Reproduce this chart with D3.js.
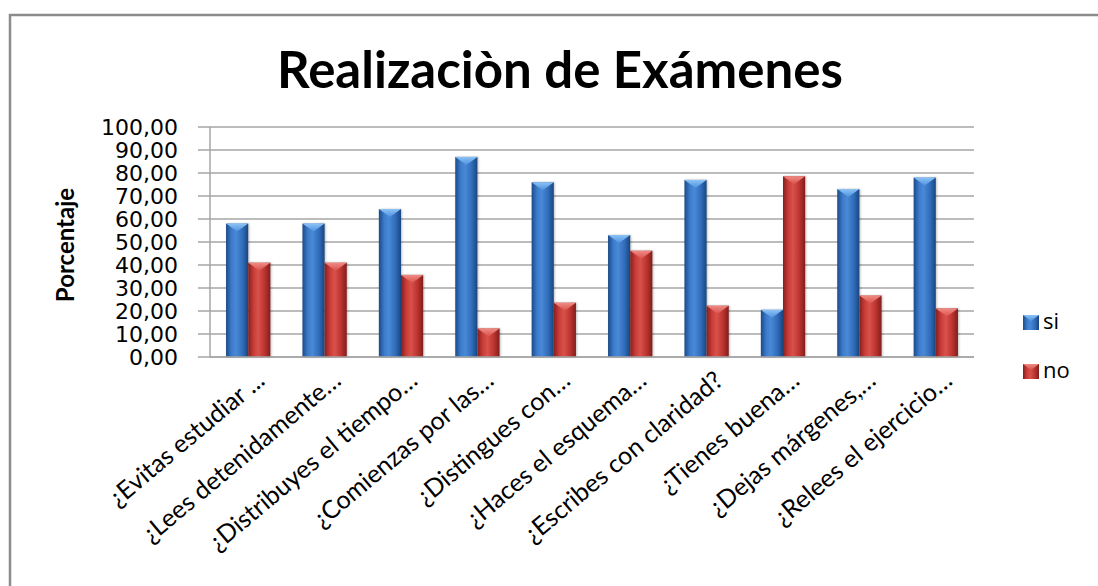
<!DOCTYPE html>
<html>
<head>
<meta charset="utf-8">
<script src="https://cdn.jsdelivr.net/npm/d3@7"></script>
<style>
  html, body { margin: 0; padding: 0; background: #fff; }
  svg { display: block; }
</style>
</head>
<body>
<svg id="chart" width="1098" height="586"></svg>
<script>
// Survey questions (labels as shortened on the axis)
const categories = [
  "¿Evitas estudiar ...",
  "¿Lees detenidamente…",
  "¿Distribuyes el tiempo…",
  "¿Comienzas por las…",
  "¿Distingues con…",
  "¿Haces el esquema…",
  "¿Escribes con claridad?",
  "¿Tienes buena…",
  "¿Dejas márgenes,…",
  "¿Relees el ejercicio…"
];
const seriesNames = ["si", "no"];
const siValues = [58, 58, 64.3, 87, 76, 53, 77, 20.5, 73, 78];
const noValues = [41, 41, 35.7, 12.4, 23.6, 46.2, 22.3, 78.6, 26.7, 21.1];
const yTicks = [0, 10, 20, 30, 40, 50, 60, 70, 80, 90, 100];

const svg = d3.select("#chart");
const plot = { left: 210, right: 974, top: 127, bottom: 357 };

const esLocale = d3.formatLocale({ decimal: ",", thousands: ".", grouping: [3], currency: ["", "€"] });
const fmt = esLocale.format(".2f");

const x = d3.scaleBand().domain(categories).range([plot.left, plot.right])
  .paddingInner(0.42).paddingOuter(0.21);
const xs = d3.scaleBand().domain(seriesNames).range([0, x.bandwidth()]);
const y = d3.scaleLinear().domain([0, 100]).range([plot.bottom, plot.top]);

// Gradients for the cylinder-like bars
const defs = svg.append("defs");
const palettes = {
  si: { stops: ["#1c4a88", "#3c7ccc", "#4a89d6", "#2f6cba", "#1a457f"], cap: ["#8cc2f5", "#4f92de"] },
  no: { stops: ["#84201e", "#cc3d38", "#d8514b", "#ba332e", "#801e1c"], cap: ["#f08a84", "#d9524c"] }
};
seriesNames.forEach(s => {
  const g = defs.append("linearGradient").attr("id", "grad-" + s)
    .attr("x1", "0").attr("x2", "1").attr("y1", "0").attr("y2", "0");
  const offs = [0, 0.25, 0.45, 0.75, 1];
  palettes[s].stops.forEach((c, i) => g.append("stop").attr("offset", offs[i]).attr("stop-color", c));
  const cg = defs.append("linearGradient").attr("id", "cap-" + s)
    .attr("x1", "0").attr("x2", "0").attr("y1", "0").attr("y2", "1");
  cg.append("stop").attr("offset", 0).attr("stop-color", palettes[s].cap[0]);
  cg.append("stop").attr("offset", 1).attr("stop-color", palettes[s].cap[1]);
});
const blur = defs.append("filter").attr("id", "shadow").attr("x", "-20%").attr("y", "-5%").attr("width", "140%").attr("height", "115%");
blur.append("feGaussianBlur").attr("stdDeviation", 1.2);

// Outer frame (top and left edges)
svg.append("path")
  .attr("d", "M10,590 L10,15 L1098,15")
  .attr("fill", "none").attr("stroke", "#8c8c8c").attr("stroke-width", 2.5);

// Title
svg.append("text")
  .attr("x", 560).attr("y", 88)
  .attr("text-anchor", "middle")
  .attr("font-family", "Lato, 'Open Sans', sans-serif")
  .attr("font-weight", "bold")
  .attr("font-size", 51)
  .attr("fill", "#000")
  .text("Realizaciòn de Exámenes");

// Horizontal gridlines
svg.append("g").selectAll("line").data(yTicks).join("line")
  .attr("x1", plot.left - 12).attr("x2", plot.right)
  .attr("y1", d => y(d)).attr("y2", d => y(d))
  .attr("stroke", "#a6a6a6").attr("stroke-width", 1.5);

// Y axis
const yAxis = svg.append("g").attr("transform", `translate(${plot.left},0)`)
  .call(d3.axisLeft(y).tickValues(yTicks).tickFormat(fmt).tickSize(0).tickPadding(32));
yAxis.select(".domain").remove();
yAxis.append("line").attr("x1", 0).attr("x2", 0).attr("y1", plot.top).attr("y2", plot.bottom)
  .attr("stroke", "#a6a6a6").attr("stroke-width", 1.5);
yAxis.selectAll("text")
  .attr("font-family", "'DejaVu Sans', Verdana, sans-serif")
  .attr("font-size", 22)
  .attr("fill", "#000");

// Y axis title
svg.append("text")
  .attr("transform", "translate(74,245) rotate(-90)")
  .attr("text-anchor", "middle")
  .attr("font-family", "Lato, 'Open Sans', sans-serif")
  .attr("font-weight", "bold")
  .attr("font-size", 24)
  .attr("fill", "#000")
  .text("Porcentaje");

// Bars
const rows = categories.map((c, i) => ({ cat: c, si: siValues[i], no: noValues[i] }));
const groups = svg.append("g").selectAll("g").data(rows).join("g")
  .attr("transform", d => `translate(${x(d.cat)},0)`);

const bars = groups.selectAll("g.bar")
  .data(d => seriesNames.map(s => ({ key: s, value: d[s] })))
  .join("g").attr("class", "bar");

// soft shadow behind each bar
bars.append("rect")
  .attr("x", d => xs(d.key) + 1).attr("y", d => y(d.value))
  .attr("width", xs.bandwidth()).attr("height", d => y(0) - y(d.value))
  .attr("fill", "#000").attr("opacity", 0.25).attr("filter", "url(#shadow)");
bars.append("rect")
  .attr("x", d => xs(d.key)).attr("y", d => y(d.value))
  .attr("width", xs.bandwidth()).attr("height", d => y(0) - y(d.value))
  .attr("fill", d => `url(#grad-${d.key})`);
// bevelled top
bars.append("path")
  .attr("d", d => {
    const x0 = xs(d.key), w = xs.bandwidth(), t = y(d.value);
    return `M${x0},${t} L${x0 + w},${t} L${x0 + w / 2},${t + 8} Z`;
  })
  .attr("fill", d => `url(#cap-${d.key})`);

// baseline over bars
svg.append("line").attr("x1", plot.left).attr("x2", plot.right)
  .attr("y1", y(0)).attr("y2", y(0)).attr("stroke", "#a6a6a6").attr("stroke-width", 1.5);

// X axis labels, rotated
svg.append("g").selectAll("text").data(categories).join("text")
  .attr("transform", d => `translate(${x(d) + x.bandwidth() / 2 + 18},383) rotate(-40)`)
  .attr("text-anchor", "end")
  .attr("font-family", "Lato, 'Open Sans', sans-serif")
  .attr("font-size", 25)
  .attr("fill", "#000")
  .text(d => d);

// Legend
const legend = svg.append("g").selectAll("g").data(seriesNames).join("g")
  .attr("transform", (d, i) => `translate(1023,${315 + i * 49})`);
legend.append("rect").attr("width", 16).attr("height", 15)
  .attr("fill", d => `url(#grad-${d})`);
legend.append("path")
  .attr("d", "M0,0 L16,0 L8,6 Z")
  .attr("fill", d => `url(#cap-${d})`);
legend.append("text")
  .attr("x", 20).attr("y", 14)
  .attr("font-family", "'Open Sans', sans-serif")
  .attr("font-size", 22)
  .attr("fill", "#000")
  .text(d => d);
</script>
</body>
</html>
